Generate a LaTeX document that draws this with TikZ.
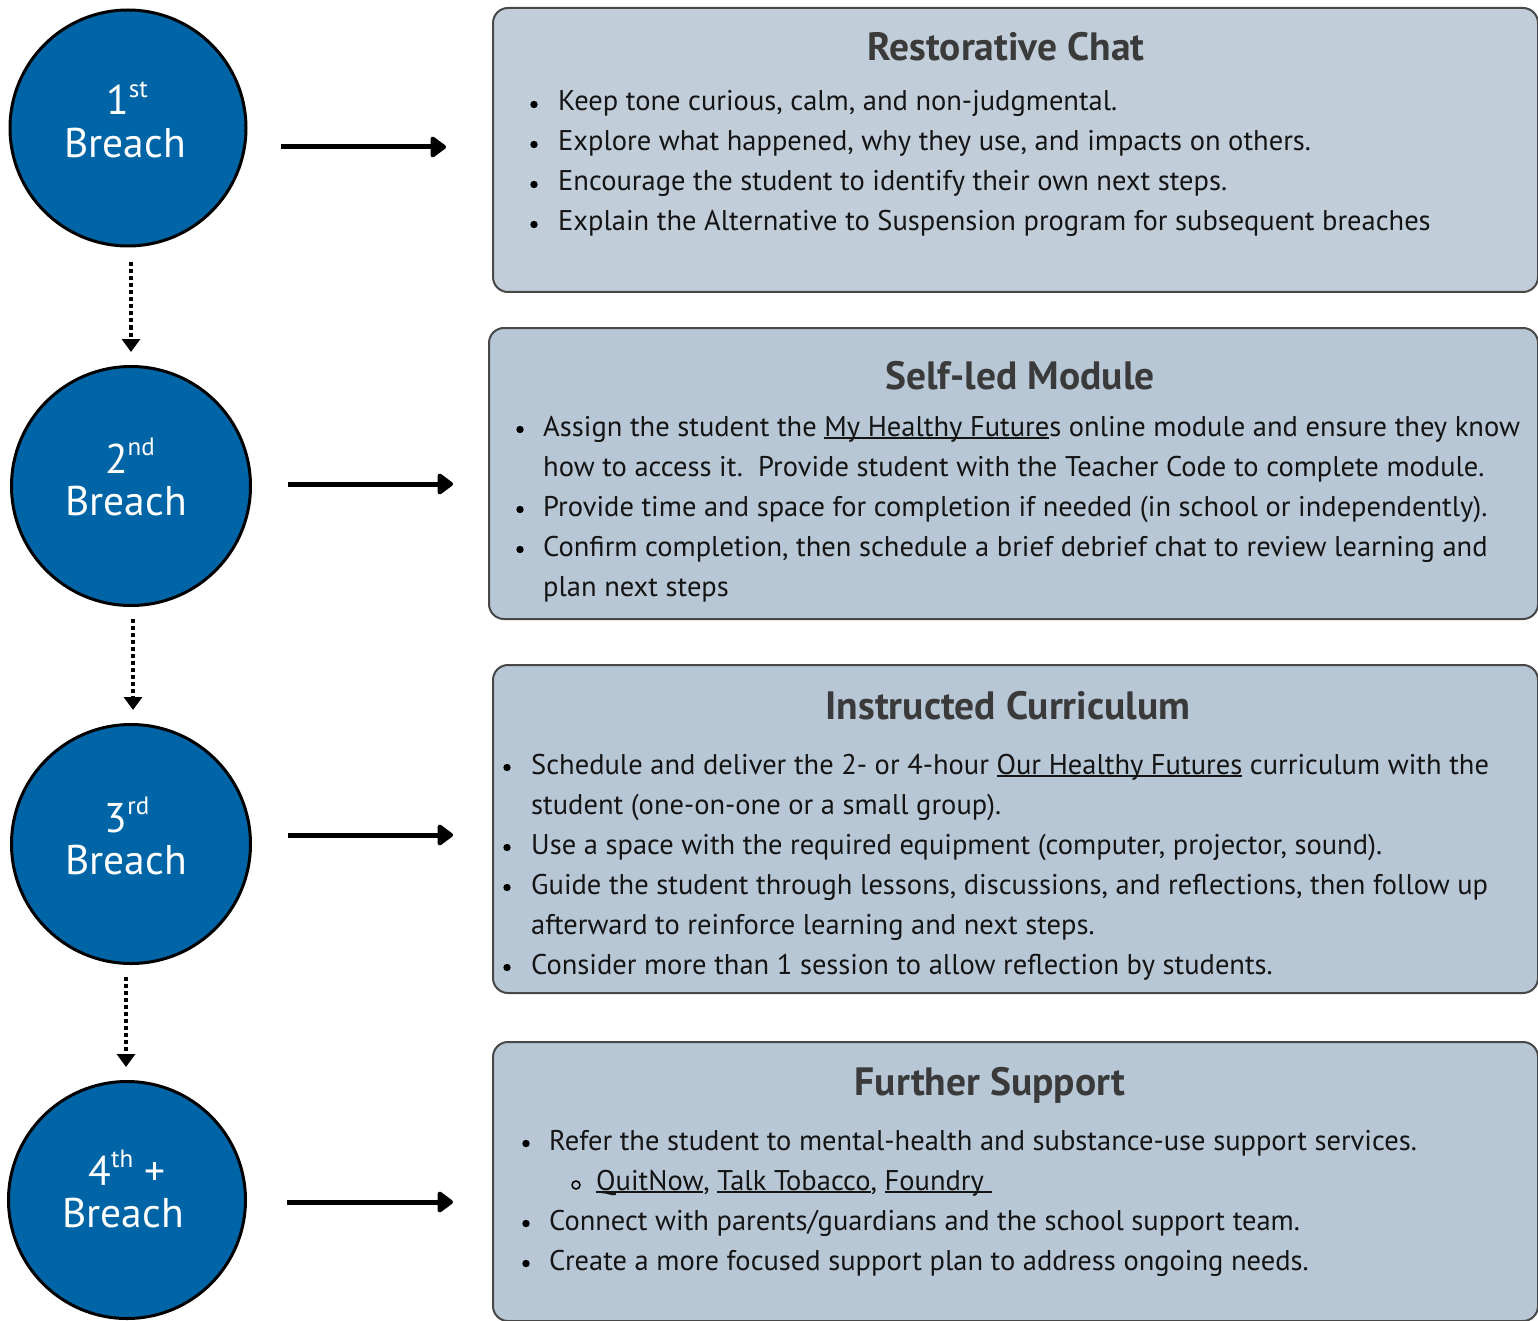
\documentclass[tikz,border=0pt]{standalone}
\usepackage{fontspec}
\setmainfont{PT Sans}
\usetikzlibrary{arrows.meta,calc}
\definecolor{breachblue}{RGB}{0,101,166}
\definecolor{boxfillA}{RGB}{193,206,218}
\definecolor{boxfillB}{RGB}{184,199,213}
\definecolor{boxedge}{RGB}{72,72,72}
\definecolor{titlegray}{RGB}{58,58,58}
\definecolor{bodyink}{RGB}{20,20,20}
\newsavebox\lnkbox
\newcommand\lnk[1]{\sbox\lnkbox{#1}\rlap{\rule[-0.12em]{\wd\lnkbox}{0.07em}}\usebox\lnkbox}
\newcommand\ordsup[1]{\raisebox{0.42em}{\fontsize{25}{28}\selectfont #1}}
\begin{document}
\begin{tikzpicture}[x=1pt,y=-1pt,
  breach/.style={circle, draw=black, line width=3pt, fill=breachblue, minimum size=#1, inner sep=0pt},
  ctext/.style={text=white, font=\fontsize{41.5}{44}\selectfont, anchor=base, inner sep=0pt},
  infobox/.style={draw=boxedge, line width=2pt, rounded corners=15pt, anchor=north west, inner sep=0pt},
  ttl/.style={font=\bfseries\fontsize{39.5}{44}\selectfont, text=titlegray, anchor=base, inner sep=0pt},
  body/.style={font=\fontsize{28.5}{34}\selectfont, text=bodyink, anchor=base west, inner sep=0pt},
  harrow/.style={line width=5pt, -{Triangle[length=17pt,width=24pt,round]}},
  darrow/.style={line width=4pt, dash pattern=on 4pt off 3pt, -{Triangle[length=13pt,width=18pt]}},
  dot/.style={fill=black}
]
\useasboundingbox (0,0) rectangle (1538,1321);

% breach circles
\node[breach=236pt] (c1) at (128,128) {};
\node[breach=239pt] (c2) at (131,486) {};
\node[breach=239pt] (c3) at (131,844) {};
\node[breach=237pt] (c4) at (127,1200) {};

\node[ctext] (c1n) at (127,115) {1\ordsup{st}};
\node[ctext] (c1b) at (125,158) {Breach};
\node[ctext] (c2n) at (130,473) {2\ordsup{nd}};
\node[ctext] (c2b) at (126,515) {Breach};
\node[ctext] (c3n) at (127,832) {3\ordsup{rd}};
\node[ctext] (c3b) at (126,874) {Breach};
\node[ctext] (c4n) at (127,1185) {4\ordsup{th} +};
\node[ctext] (c4b) at (123,1227) {Breach};

% boxes
\node[infobox, fill=boxfillA, minimum width=1045pt, minimum height=284pt] (b1) at (492,7) {};
\node[infobox, fill=boxfillB, minimum width=1049pt, minimum height=291pt] (b2) at (488,327) {};
\node[infobox, fill=boxfillB, minimum width=1045pt, minimum height=328pt] (b3) at (492,664) {};
\node[infobox, fill=boxfillB, minimum width=1045pt, minimum height=279pt] (b4) at (492,1041) {};

% arrows
\draw[harrow, shorten <=33pt, shorten >=46pt] (c1.east |- 0,147) -- (b1.west |- 0,147);
\draw[harrow, shorten <=36pt, shorten >=35pt] (c2.east |- 0,484) -- (b2.west |- 0,484);
\draw[harrow, shorten <=36pt, shorten >=39pt] (c3.east |- 0,835) -- (b3.west |- 0,835);
\draw[harrow, shorten <=40pt, shorten >=39pt] (c4.east |- 0,1202) -- (b4.west |- 0,1202);

\draw[darrow, shorten <=15pt, shorten >=13pt] (c1.south -| c2.north) -- (c2.north);
\draw[darrow, shorten <=12pt, shorten >=13pt] ([xshift=2pt]c2.south) -- ([xshift=2pt]c3.north);
\draw[darrow, shorten <=12pt, shorten >=13pt] ([xshift=-1pt]c3.south -| c4.north) -- ([xshift=-1pt]c4.north);

% box 1
\node[ttl] (t1) at (1006,61) {Restorative Chat};
\fill[dot] (534,104.5) circle (3.7);
\fill[dot] (534,144.5) circle (3.7);
\fill[dot] (534,184.5) circle (3.7);
\fill[dot] (534,224.5) circle (3.7);
\node[body] (l11) at (558,111) {Keep tone curious, calm, and non-judgmental.};
\node[body] (l12) at (558,151) {Explore what happened, why they use, and impacts on others.};
\node[body] (l13) at (558,191) {Encourage the student to identify their own next steps.};
\node[body] (l14) at (558,231) {Explain the Alternative to Suspension program for subsequent breaches};

% box 2
\node[ttl] (t2) at (1020,389) {Self-led Module};
\fill[dot] (520,429.5) circle (3.7);
\fill[dot] (520,509.5) circle (3.7);
\fill[dot] (520,549.5) circle (3.7);
\node[body] (l21) at (543,436) {Assign the student the \lnk{My Healthy Future}s online module and ensure they know};
\node[body] (l22) at (543,476) {how to access it.\ \ Provide student with the Teacher Code to complete module.};
\node[body] (l23) at (543,516) {Provide time and space for completion if needed (in school or independently).};
\node[body] (l24) at (543,556) {Confirm completion, then schedule a brief debrief chat to review learning and};
\node[body] (l25) at (543,596) {plan next steps};

% box 3
\node[ttl] (t3) at (1008,719) {Instructed Curriculum};
\fill[dot] (507,767.5) circle (3.7);
\fill[dot] (507,847.5) circle (3.7);
\fill[dot] (507,887.5) circle (3.7);
\fill[dot] (507,967.5) circle (3.7);
\node[body] (l31) at (531,774) {Schedule and deliver the 2- or 4-hour \lnk{Our Healthy Futures} curriculum with the};
\node[body] (l32) at (531,814) {student (one-on-one or a small group).};
\node[body] (l33) at (531,854) {Use a space with the required equipment (computer, projector, sound).};
\node[body] (l34) at (531,894) {Guide the student through lessons, discussions, and reflections, then follow up};
\node[body] (l35) at (531,934) {afterward to reinforce learning and next steps.};
\node[body] (l36) at (531,974) {Consider more than 1 session to allow reflection by students.};

% box 4
\node[ttl] (t4) at (990,1095) {Further Support};
\fill[dot] (526,1143.5) circle (3.7);
\draw[line width=1.5pt] (576,1185) circle (4);
\fill[dot] (526,1223.5) circle (3.7);
\fill[dot] (526,1263.5) circle (3.7);
\node[body] (l41) at (549,1150) {Refer the student to mental-health and substance-use support services.};
\node[body] (l42) at (596,1190) {\lnk{QuitNow}, \lnk{Talk Tobacco}, \lnk{Foundry\ }};
\node[body] (l43) at (549,1230) {Connect with parents/guardians and the school support team.};
\node[body] (l44) at (549,1270) {Create a more focused support plan to address ongoing needs.};
\end{tikzpicture}
\end{document}
